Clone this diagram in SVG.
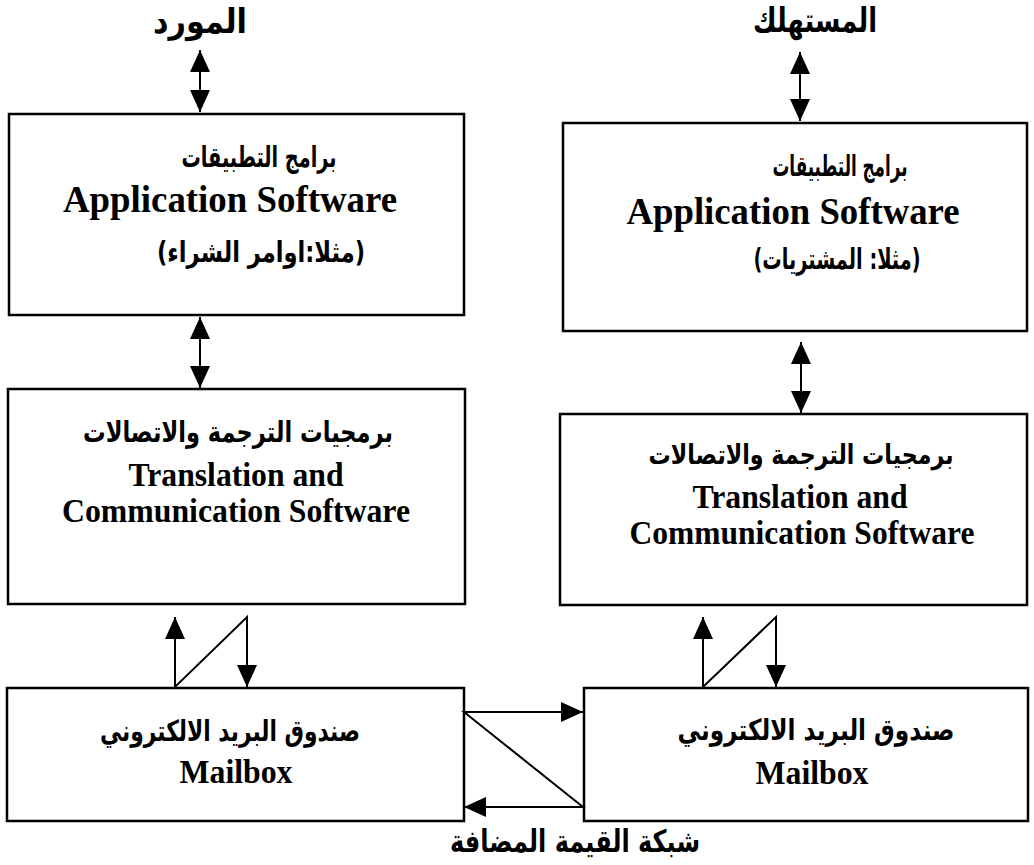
<svg xmlns="http://www.w3.org/2000/svg" width="1034" height="865" viewBox="0 0 1034 865">
  <defs>
    <!-- solid triangular arrowhead, fixed size in user units -->
    <marker id="head" viewBox="0 0 22 20" refX="22" refY="10" markerWidth="22" markerHeight="20" markerUnits="userSpaceOnUse" orient="auto-start-reverse">
      <path d="M0,0 L22,10 L0,20 z" fill="#000"/>
    </marker>
    <style>
      .box { fill: #fff; stroke: #000; stroke-width: 2.5; }
      .ar { font-family: "DejaVu Sans", sans-serif; font-weight: bold; font-size: 29px; text-anchor: middle; fill: #000; }
      .label { font-size: 34px; }
      .net { font-size: 31px; }
      .small { font-size: 27px; }
      .en { font-family: "Liberation Serif", "Times New Roman", serif; font-weight: bold; text-anchor: middle; fill: #000; }
      .big { font-size: 37px; }
      .mid { font-size: 33px; }
      .link { fill: none; stroke: #000; stroke-width: 2; marker-start: url(#head); marker-end: url(#head); }
    </style>
  </defs>

  <rect width="1034" height="865" fill="#fff"/>

  <!-- party labels -->
  <text class="ar label" x="200" y="33" direction="rtl" textLength="94" lengthAdjust="spacingAndGlyphs">المورد</text>
  <text class="ar label" x="815" y="32" direction="rtl" textLength="124" lengthAdjust="spacingAndGlyphs">المستهلك</text>

  <!-- supplier side -->
  <g id="supplier-app">
    <rect class="box" x="9" y="114" width="455" height="201"/>
    <text class="ar" x="259" y="167" direction="rtl" textLength="155" lengthAdjust="spacingAndGlyphs">برامج التطبيقات</text>
    <text class="en big" x="230" y="212" textLength="334" lengthAdjust="spacingAndGlyphs">Application Software</text>
    <text class="ar" x="261" y="262" direction="rtl" textLength="208" lengthAdjust="spacingAndGlyphs">(مثلا:اوامر الشراء)</text>
  </g>

  <g id="supplier-translation">
    <rect class="box" x="8" y="389" width="457" height="215"/>
    <text class="ar" x="238" y="442" direction="rtl" textLength="310" lengthAdjust="spacingAndGlyphs">برمجيات الترجمة والاتصالات</text>
    <text class="en mid" x="236" y="486" textLength="215" lengthAdjust="spacingAndGlyphs">Translation and</text>
    <text class="en mid" x="236" y="522" textLength="348" lengthAdjust="spacingAndGlyphs">Communication Software</text>
  </g>

  <g id="supplier-mailbox">
    <rect class="box" x="7" y="688" width="457" height="133"/>
    <text class="ar" x="230" y="741" direction="rtl" textLength="260" lengthAdjust="spacingAndGlyphs">صندوق البريد الالكتروني</text>
    <text class="en mid" x="236" y="783" textLength="113" lengthAdjust="spacingAndGlyphs">Mailbox</text>
  </g>

  <!-- consumer side -->
  <g id="consumer-app">
    <rect class="box" x="563" y="123" width="464" height="208"/>
    <text class="ar" x="840" y="176" direction="rtl" textLength="135" lengthAdjust="spacingAndGlyphs">برامج التطبيقات</text>
    <text class="en big" x="793" y="224" textLength="333" lengthAdjust="spacingAndGlyphs">Application Software</text>
    <text class="ar" x="837" y="269" direction="rtl" textLength="167" lengthAdjust="spacingAndGlyphs">(مثلا: المشتريات)</text>
  </g>

  <g id="consumer-translation">
    <rect class="box" x="560" y="414" width="467" height="191"/>
    <text class="ar small" x="801" y="464" direction="rtl" textLength="305" lengthAdjust="spacingAndGlyphs">برمجيات الترجمة والاتصالات</text>
    <text class="en mid" x="800" y="508" textLength="215" lengthAdjust="spacingAndGlyphs">Translation and</text>
    <text class="en mid" x="802" y="544" textLength="345" lengthAdjust="spacingAndGlyphs">Communication Software</text>
  </g>

  <g id="consumer-mailbox">
    <rect class="box" x="584" y="688" width="444" height="133"/>
    <text class="ar" x="816" y="740" direction="rtl" textLength="277" lengthAdjust="spacingAndGlyphs">صندوق البريد الالكتروني</text>
    <text class="en mid" x="812" y="784" textLength="113" lengthAdjust="spacingAndGlyphs">Mailbox</text>
  </g>

  <!-- network label -->
  <text class="ar net" x="575" y="852" direction="rtl" textLength="250" lengthAdjust="spacingAndGlyphs">شبكة القيمة المضافة</text>

  <!-- connectors -->
  <g id="connectors">
    <polyline class="link" points="200,50 200,112"/>
    <polyline class="link" points="800,52 800,121"/>
    <polyline class="link" points="200,317 200,388"/>
    <polyline class="link" points="801,342 801,413"/>
    <polyline class="link" points="175,617 175,687 247,617 247,687"/>
    <polyline class="link" points="703,617 703,687 776,617 776,687"/>
    <polyline class="link" points="583,712 464,712 583,807 464,807"/>
  </g>
</svg>
